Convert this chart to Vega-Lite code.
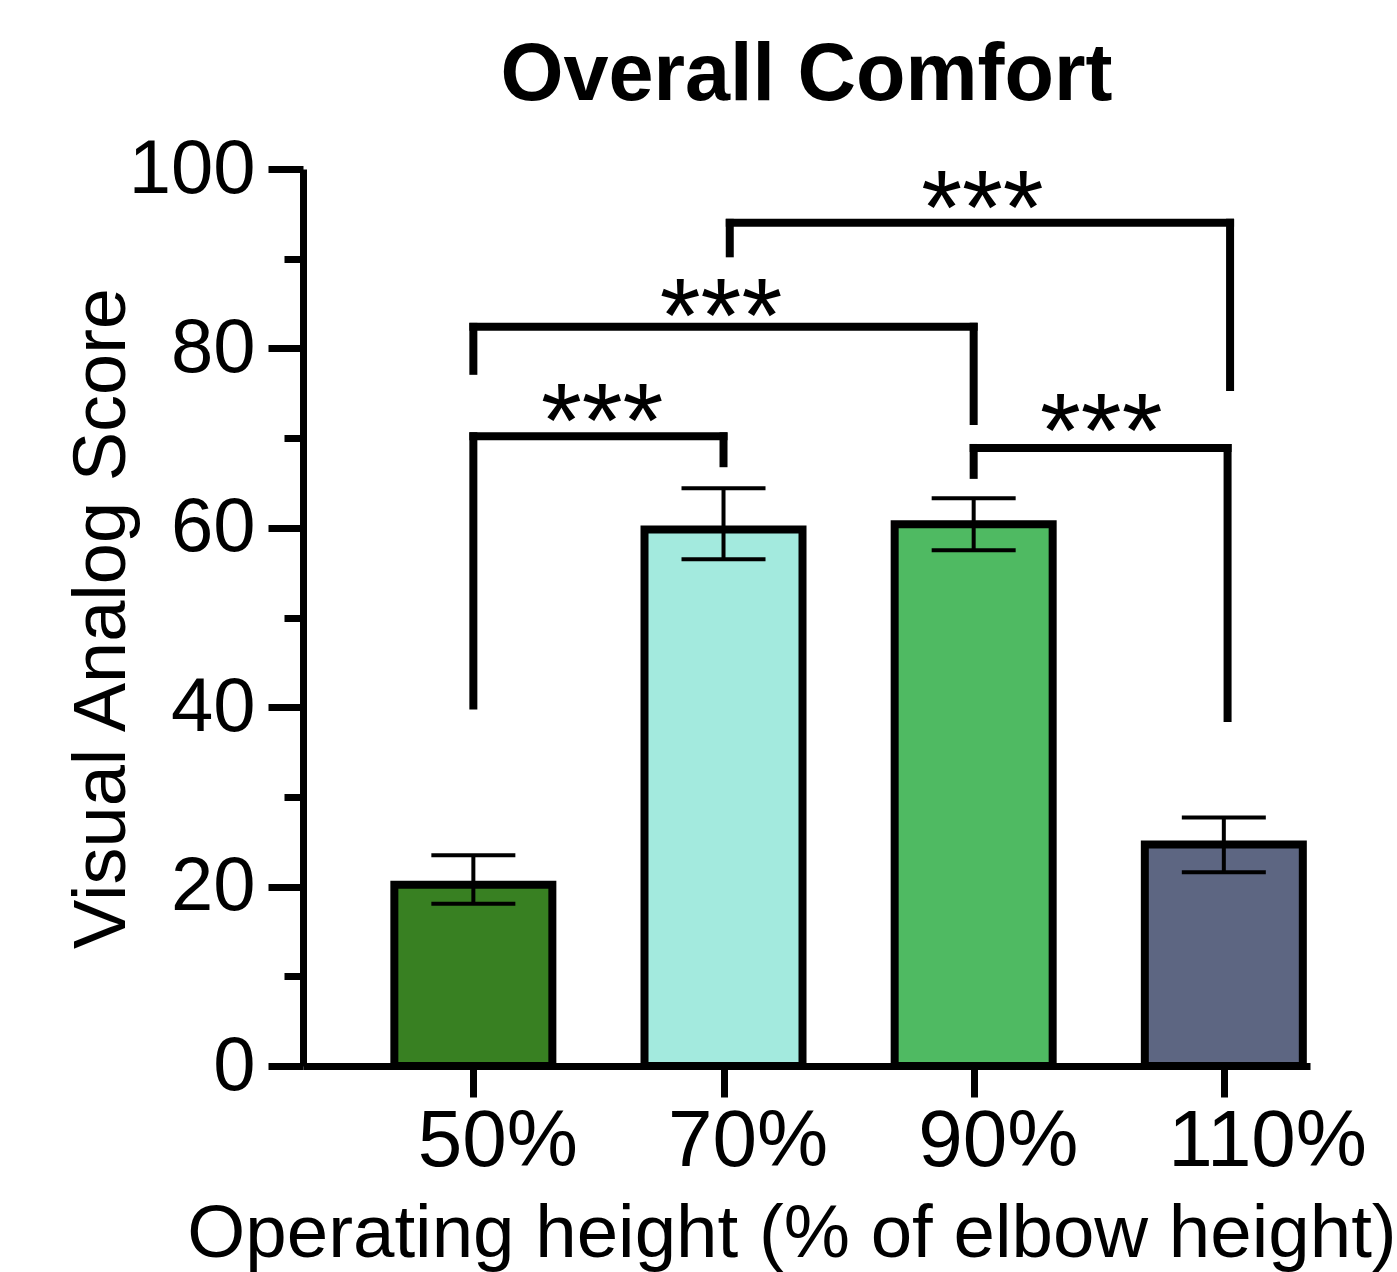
{
  "$schema": "https://vega.github.io/schema/vega-lite/v6.json",
  "width": 1007,
  "height": 897,
  "autosize": {"type": "none"},
  "padding": {"left": 303, "top": 169, "right": 87, "bottom": 206},
  "background": "white",
  "config": {"view": {"stroke": null}, "font": "Liberation Sans"},
  "title": {
    "text": "Overall Comfort",
    "font": "Liberation Sans",
    "fontSize": 81,
    "fontWeight": "bold",
    "color": "black",
    "anchor": "middle",
    "frame": "group",
    "baseline": "alphabetic",
    "offset": -50
  },
  "datasets": {
    "scores": [
      {"height": 50, "score": 20.2, "lo": 18.1, "hi": 23.5},
      {"height": 70, "score": 59.8, "lo": 56.5, "hi": 64.4},
      {"height": 90, "score": 60.4, "lo": 57.5, "hi": 63.3},
      {"height": 110, "score": 24.7, "lo": 21.6, "hi": 27.7}
    ],
    "bracket_spans": [
      {"from": 50, "to": 70, "level": 70.2},
      {"from": 50, "to": 90, "level": 82.4},
      {"from": 70.5, "to": 110.5, "level": 94.0},
      {"from": 90, "to": 110.3, "level": 68.9}
    ],
    "bracket_legs": [
      {"at": 50, "top": 70.2, "bottom": 40.2},
      {"at": 70, "top": 70.2, "bottom": 67.2},
      {"at": 50, "top": 82.4, "bottom": 77.5},
      {"at": 90, "top": 82.4, "bottom": 71.9},
      {"at": 70.5, "top": 94.0, "bottom": 90.6},
      {"at": 110.5, "top": 94.0, "bottom": 75.7},
      {"at": 90, "top": 68.9, "bottom": 65.9},
      {"at": 110.3, "top": 68.9, "bottom": 38.8}
    ],
    "significance": [
      {"mid": 60.3, "level": 74.3, "stars": "***"},
      {"mid": 69.8, "level": 85.9, "stars": "***"},
      {"mid": 90.7, "level": 98.0, "stars": "***"},
      {"mid": 100.2, "level": 73.1, "stars": "***"}
    ]
  },
  "layer": [
    {
      "data": {"name": "scores"},
      "mark": {"type": "bar", "size": 158, "stroke": "black", "strokeWidth": 8},
      "encoding": {
        "x": {
          "field": "height",
          "type": "quantitative",
          "scale": {"domain": [36.78, 116.49], "zero": false, "nice": false},
          "axis": {
            "values": [50, 70, 90, 110],
            "labelExpr": "datum.value + '%'",
            "title": "Operating height (% of elbow height)",
            "grid": false,
            "domainColor": "black",
            "domainWidth": 7,
            "tickColor": "black",
            "tickWidth": 7,
            "tickSize": 31,
            "labelFont": "Liberation Sans",
            "labelFontSize": 80,
            "labelColor": "black",
            "labelAlign": "left",
            "labelOffset": -56,
            "labelPadding": 5,
            "labelLimit": 0,
            "labelFlush": false,
            "labelOverlap": false,
            "titleFont": "Liberation Sans",
            "titleFontSize": 74.5,
            "titleFontWeight": "normal",
            "titleColor": "black",
            "titleX": 488.5,
            "titleY": 190,
            "titleBaseline": "alphabetic",
            "titleAlign": "center"
          }
        },
        "y": {
          "field": "score",
          "type": "quantitative",
          "scale": {"domain": [0, 100], "nice": false},
          "axis": {
            "values": [0, 10, 20, 30, 40, 50, 60, 70, 80, 90, 100],
            "labelExpr": "datum.value % 20 === 0 ? datum.label : ''",
            "title": "Visual Analog Score",
            "grid": false,
            "domainColor": "black",
            "domainWidth": 7,
            "tickColor": "black",
            "tickWidth": 7,
            "tickSize": {"condition": {"test": "datum.value % 20 === 0", "value": 35}, "value": 19},
            "labelFont": "Liberation Sans",
            "labelFontSize": 76,
            "labelColor": "black",
            "labelPadding": 13,
            "labelFlush": false,
            "labelOverlap": false,
            "titleFont": "Liberation Sans",
            "titleFontSize": 74,
            "titleFontWeight": "normal",
            "titleColor": "black",
            "titleAngle": -90,
            "titleX": -179,
            "titleY": 449,
            "titleBaseline": "alphabetic",
            "titleAlign": "center"
          }
        },
        "y2": {"datum": 0},
        "color": {
          "field": "height",
          "type": "nominal",
          "scale": {"domain": [50, 70, 90, 110], "range": ["#388022", "#a3eade", "#4fba62", "#5d6682"]},
          "legend": null
        }
      }
    },
    {
      "data": {"name": "scores"},
      "mark": {"type": "rule", "color": "black", "strokeWidth": 4},
      "encoding": {
        "x": {"field": "height", "type": "quantitative"},
        "y": {"field": "lo", "type": "quantitative"},
        "y2": {"field": "hi"}
      }
    },
    {
      "data": {"name": "scores"},
      "transform": [{"fold": ["lo", "hi"], "as": ["bound", "value"]}],
      "mark": {"type": "tick", "orient": "horizontal", "color": "black", "opacity": 1, "size": 84, "thickness": 4},
      "encoding": {
        "x": {"field": "height", "type": "quantitative"},
        "y": {"field": "value", "type": "quantitative"}
      }
    },
    {
      "data": {"name": "bracket_spans"},
      "mark": {"type": "rule", "color": "black", "strokeWidth": 8, "strokeCap": "square"},
      "encoding": {
        "x": {"field": "from", "type": "quantitative"},
        "x2": {"field": "to"},
        "y": {"field": "level", "type": "quantitative"}
      }
    },
    {
      "data": {"name": "bracket_legs"},
      "mark": {"type": "rule", "color": "black", "strokeWidth": 8, "strokeCap": "square"},
      "encoding": {
        "x": {"field": "at", "type": "quantitative"},
        "y": {"field": "top", "type": "quantitative"},
        "y2": {"field": "bottom"}
      }
    },
    {
      "data": {"name": "significance"},
      "mark": {"type": "text", "font": "Liberation Sans", "fontSize": 105, "color": "black", "align": "center", "baseline": "alphabetic", "dy": 57},
      "encoding": {
        "x": {"field": "mid", "type": "quantitative"},
        "y": {"field": "level", "type": "quantitative"},
        "text": {"field": "stars"}
      }
    }
  ]
}
